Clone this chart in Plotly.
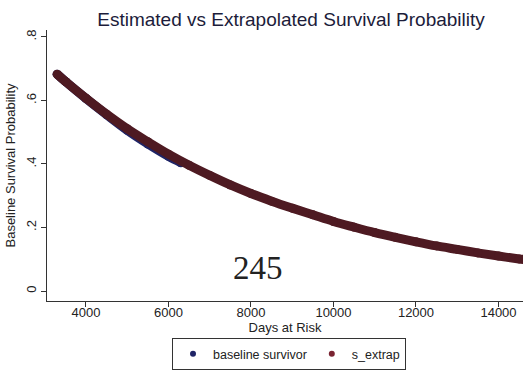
import plotly.graph_objects as go

# Data
days_extrap = [3300, 3500, 4000, 4500, 5000, 5500, 6000, 6500, 7000, 7500, 8000,
               8500, 9000, 9500, 10000, 10500, 11000, 11500, 12000, 12500, 13000,
               13500, 14000, 14500, 14700]
s_extrap = [0.683, 0.660, 0.607, 0.557, 0.511, 0.470, 0.431, 0.396, 0.364, 0.334, 0.307,
            0.283, 0.261, 0.240, 0.219, 0.201, 0.184, 0.169, 0.155, 0.142, 0.131,
            0.120, 0.110, 0.101, 0.098]

days_base = [3300, 3500, 4000, 4500, 5000, 5500, 6000, 6300]
baseline_survivor = [0.683, 0.660, 0.606, 0.555, 0.506, 0.463, 0.424, 0.404]

x_ticks = [4000, 6000, 8000, 10000, 12000, 14000]
x_tick_labels = ["4000", "6000", "8000", "10000", "12000", "14000"]
y_ticks = [0, 0.2, 0.4, 0.6, 0.8]
y_tick_labels = ["0", ".2", ".4", ".6", ".8"]

navy = "#1f2466"
maroon = "#4e1a22"
font = "Liberation Sans, Arial, sans-serif"

fig = go.Figure()
fig.add_trace(go.Scatter(x=days_base, y=baseline_survivor, mode="lines+markers",
                         line=dict(color=navy, width=9, shape="spline"),
                         marker=dict(color=navy, size=9), showlegend=False))
fig.add_trace(go.Scatter(x=days_extrap, y=s_extrap, mode="lines+markers",
                         line=dict(color=maroon, width=9, shape="spline"),
                         marker=dict(color=maroon, size=9), showlegend=False))
# legend entries (dots)
fig.add_trace(go.Scatter(x=[None], y=[None], mode="markers", name="baseline survivor",
                         marker=dict(color=navy, size=6)))
fig.add_trace(go.Scatter(x=[None], y=[None], mode="markers", name="s_extrap",
                         marker=dict(color="#7a2432", size=6)))

fig.add_annotation(text="245", xref="paper", yref="paper",
                   x=(258 - 47) / (523 - 47), y=(301 - 268) / (301 - 30),
                   xanchor="center", yanchor="middle", showarrow=False,
                   font=dict(family="Liberation Serif, Times New Roman, serif", size=33, color="#222"))

fig.update_layout(
    width=523, height=372,
    margin=dict(l=47, r=0, t=30, b=71),
    paper_bgcolor="white", plot_bgcolor="white",
    title=dict(text="Estimated vs Extrapolated Survival Probability",
               x=291 / 523, xref="container", xanchor="center",
               y=1 - 19 / 372, yref="container", yanchor="middle",
               font=dict(family=font, size=19, color="#1c1c3a")),
    font=dict(family=font, size=13, color="#222"),
    legend=dict(orientation="h", x=(289 - 47) / (523 - 47), xanchor="center",
                xref="paper", y=-(370 - 301) / (301 - 30), yref="paper", yanchor="bottom",
                bordercolor="#333", borderwidth=1, bgcolor="white",
                font=dict(size=12.5, color="#222"), itemwidth=30),
    xaxis=dict(range=[3055, 14594], tickvals=x_ticks, ticktext=x_tick_labels,
               ticks="outside", ticklen=5, ticklabelstandoff=-6,
               tickcolor="#333", showline=True, linecolor="#333", linewidth=1,
               showgrid=False, zeroline=False, tickfont=dict(size=13),
               title=dict(text="Days at Risk", font=dict(size=13), standoff=3)),
    yaxis=dict(range=[-0.0315, 0.822], tickvals=y_ticks, ticktext=y_tick_labels,
               tickangle=-90, ticks="outside", ticklen=5, tickcolor="#333",
               showline=True, linecolor="#333", linewidth=1, showgrid=False,
               zeroline=False, tickfont=dict(size=13),
               title=dict(text="Baseline Survival Probability", font=dict(size=13), standoff=5)),
)

fig.write_html("out.html")
